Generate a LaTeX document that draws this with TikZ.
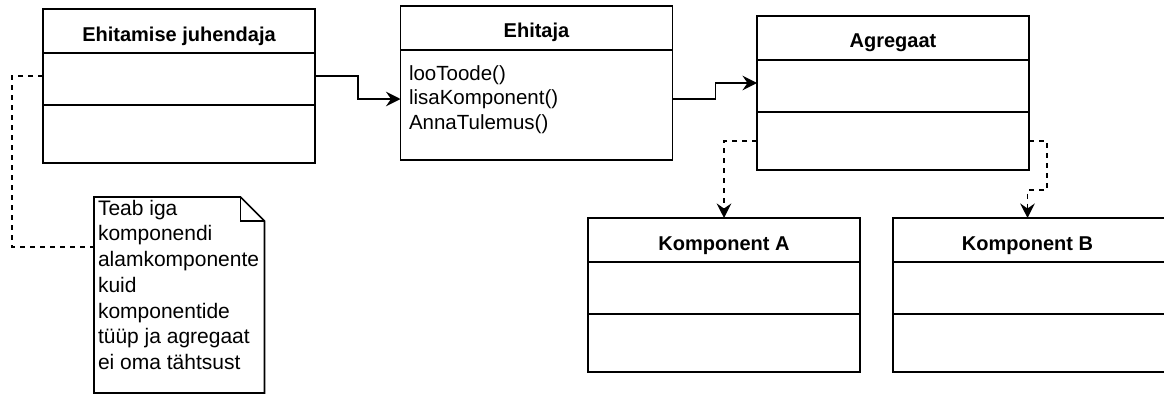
\documentclass[tikz,border=0pt]{standalone}
\usepackage{fontspec}
\setmainfont{Liberation Sans}
\usetikzlibrary{arrows.meta}

\begin{document}
\begin{tikzpicture}[x=1pt,y=-1pt,
  every node/.style={outer sep=0pt, inner sep=0pt},
  clscell/.style={draw, line width=1.6pt, minimum width=272pt, anchor=north west},
  clshdr/.style={clscell, minimum height=44pt},
  clsattr/.style={clscell, minimum height=52pt},
  clsmeth/.style={clscell, minimum height=58pt},
  hdrtext/.style={font=\fontsize{20}{24}\selectfont\bfseries, anchor=base},
  mtext/.style={font=\fontsize{20.5}{24.7}\selectfont, anchor=base west},
  notetext/.style={font=\fontsize{21}{25.7}\selectfont, align=left, anchor=north west},
  assoc/.style={line width=1.6pt, -{Stealth[length=14.5pt,width=14.5pt,inset=5pt]}},
  dep/.style={assoc, dash pattern=on 5pt off 5pt},
  notelink/.style={line width=1.5pt, dash pattern=on 5pt off 5pt},
]
\useasboundingbox (0,0) rectangle (1164,394);
\begin{scope}
\clip (0,0) rectangle (1164,394);
% Komponent B (runs past the right edge, cut by the frame)
\node[clshdr, minimum width=320pt]  (kbh) at (893,218) {};
\node[clsattr, minimum width=320pt] (kba) at (893,262) {};
\node[clsmeth, minimum width=320pt] (kbm) at (893,314) {};
\end{scope}
\node[hdrtext] (kbt) at (1027.5,250) {Komponent B};

% Ehitamise juhendaja
\node[clshdr]  (b1h) at (43,9) {};
\node[clsattr] (b1a) at (43,53) {};
\node[clsmeth] (b1m) at (43,105) {};
\node[hdrtext] (b1t) at ([yshift=-10pt]b1h.center) {Ehitamise juhendaja};

% Ehitaja
\node[clshdr] (ehh) at (400.5,6) {};
\node[clscell, minimum height=110pt] (ehb) at (400.5,50) {};
\node[hdrtext] (eht) at ([yshift=-9pt]ehh.center) {Ehitaja};
\node[mtext] (m1) at ([shift={(8.5,30)}]ehb.north west) {looToode()};
\node[mtext] (m2) at ([shift={(8.5,54.7)}]ehb.north west) {lisaKomponent()};
\node[mtext] (m3) at ([shift={(8.5,79.4)}]ehb.north west) {AnnaTulemus()};

% Agregaat
\node[clshdr]  (agh) at (757,16) {};
\node[clsattr] (aga) at (757,60) {};
\node[clsmeth] (agm) at (757,112) {};
\node[hdrtext] (agt) at ([yshift=-9.3pt]agh.center) {Agregaat};

% Komponent A
\node[clshdr]  (kah) at (588,218) {};
\node[clsattr] (kaa) at (588,262) {};
\node[clsmeth] (kam) at (588,314) {};
\node[hdrtext] (kat) at ([yshift=-10pt]kah.center) {Komponent A};

% Note with folded corner
\node[minimum width=170.5pt, minimum height=196pt, anchor=north west] (note) at (94,197) {};
\draw[line width=1.6pt, line join=miter]
  (note.north west) -- ([xshift=-24pt]note.north east) -- ([yshift=-24pt]note.north east)
  -- (note.south east) -- (note.south west) -- cycle;
\draw[line width=1.6pt] ([xshift=-24pt]note.north east) |- ([yshift=-24pt]note.north east);
\node[notetext] (notetxt) at ([shift={(4,3)}]note.north west)
  {Teab iga\\komponendi\\alamkomponente\\kuid\\komponentide\\tüüp ja agregaat\\ei oma tähtsust};

% Connectors
\draw[assoc] ([yshift=3pt]b1a.east) -- ++(43,0) |- ([yshift=6pt]ehb.west);
\draw[assoc] ([yshift=6pt]ehb.east) -- ++(43,0) |- ([yshift=3pt]aga.west);
\draw[dep] (agm.west) -| (kah.north);
\draw[dep] (agm.east) -- ++(18,0) -- ++(0,49) -| (kbh.north -| kbt);
\draw[notelink] ([yshift=3pt]b1a.west) -- ++(-31,0) |- ([yshift=48pt]note.west);
\end{tikzpicture}
\end{document}
